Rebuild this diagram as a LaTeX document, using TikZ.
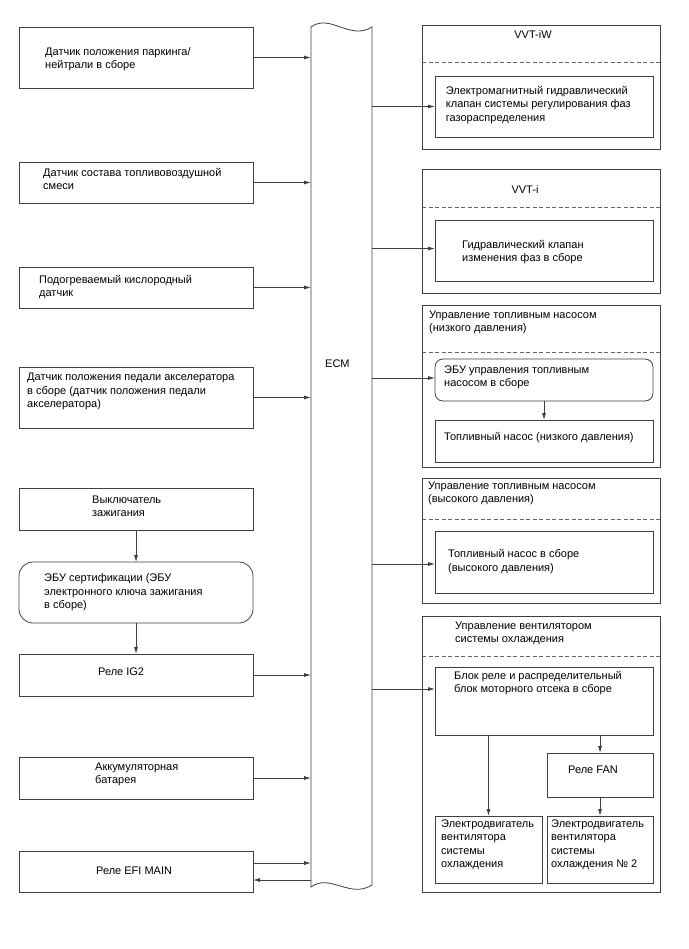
\documentclass[tikz,border=0pt]{standalone}
\usepackage{fontspec}
\setmainfont{Liberation Sans}
\usetikzlibrary{arrows.meta,calc}
\definecolor{lc}{HTML}{404040}
\begin{document}
\begin{tikzpicture}[x=1pt,y=-1pt,
  box/.style={draw=lc, line width=0.8pt, inner sep=0pt, outer sep=0pt, anchor=north west},
  txt/.style={anchor=base west, align=left, inner sep=0pt, font=\fontsize{11}{13.3}\selectfont},
  ttl/.style={anchor=base, align=center, inner sep=0pt, font=\fontsize{11}{13.3}\selectfont},
  arr/.style={draw=lc, line width=0.8pt, -{Latex[length=7pt,width=4pt]}},
  dsh/.style={draw=lc!80, line width=0.8pt, dash pattern=on 4pt off 2.5pt}]
\useasboundingbox (0,0) rectangle (688,949);
\fill[white] (0,0) rectangle (688,949);
% left column
\node[box, minimum width=234pt, minimum height=61pt] (b1) at (19,27) {};
\node[box, minimum width=234pt, minimum height=41pt] (b2) at (19,162) {};
\node[box, minimum width=234pt, minimum height=41pt] (b3) at (19,267) {};
\node[box, minimum width=234pt, minimum height=61pt] (b4) at (19,367) {};
\node[box, minimum width=234pt, minimum height=42pt] (b5) at (19,488) {};
\node[box, minimum width=234pt, minimum height=61pt, rounded corners=14pt] (b6) at (19,562) {};
\node[box, minimum width=234pt, minimum height=42pt] (b7) at (19,654) {};
\node[box, minimum width=234pt, minimum height=42pt] (b8) at (19,757) {};
\node[box, minimum width=234pt, minimum height=41pt] (b9) at (19,851) {};
% text nodes: anchored at the baseline of their last line
\node[txt] (t1) at (45,68.5) {Датчик положения паркинга/\\нейтрали в сборе};
\node[txt] (t2) at (43,189.5) {Датчик состава топливовоздушной\\смеси};
\node[txt] (t3) at (39,296.8) {Подогреваемый кислородный\\датчик};
\node[txt] (t4) at (27,407.4) {Датчик положения педали акселератора\\в сборе (датчик положения педали\\акселератора)};
\node[txt] (t5) at (92,516.8) {Выключатель\\зажигания};
\node[txt] (t6) at (44,608.4) {ЭБУ сертификации (ЭБУ\\электронного ключа зажигания\\в сборе)};
\node[txt] (t7) at (98,675.2) {Реле IG2};
\node[txt] (t8) at (95,783.5) {Аккумуляторная\\батарея};
\node[txt] (t9) at (96,874.2) {Реле EFI MAIN};
% ECM
\node[inner sep=0pt, outer sep=0pt, minimum width=61pt, minimum height=860pt, anchor=north west] (ecm) at (311,27) {};
\draw[lc, line width=0.8pt] (311,27) .. controls (330,13) and (350,41) .. (372,27)
  -- (372,885) .. controls (350,899) and (330,873) .. (311,887) -- cycle;
\node[txt] (ecmt) at (325,367.5) {ECM};
% right column
\node[box, minimum width=238pt, minimum height=124pt] (r1) at (422,25) {};
\node[box, minimum width=238pt, minimum height=124pt] (r2) at (422,169) {};
\node[box, minimum width=238pt, minimum height=162pt] (r3) at (422,305) {};
\node[box, minimum width=238pt, minimum height=125pt] (r4) at (422,478) {};
\node[box, minimum width=238pt, minimum height=276pt] (r5) at (422,616) {};
\draw[dsh] (r1.west |- 0,62) -- (r1.east |- 0,62);
\draw[dsh] (r2.west |- 0,207) -- (r2.east |- 0,207);
\draw[dsh] (r3.west |- 0,352) -- (r3.east |- 0,352);
\draw[dsh] (r4.west |- 0,519) -- (r4.east |- 0,519);
\draw[dsh] (r5.west |- 0,656) -- (r5.east |- 0,656);
\node[box, minimum width=218pt, minimum height=61pt] (r1in) at (435,76) {};
\node[box, minimum width=218pt, minimum height=61pt] (r2in) at (435,220) {};
\node[box, minimum width=218pt, minimum height=42pt, rounded corners=8pt] (r3a) at (435,359) {};
\node[box, minimum width=218pt, minimum height=42pt] (r3b) at (435,420) {};
\node[box, minimum width=218pt, minimum height=62pt] (r4in) at (435,531) {};
\node[box, minimum width=218pt, minimum height=68pt] (blk) at (435,667) {};
\node[box, minimum width=106pt, minimum height=44pt] (fan) at (547,753) {};
\node[box, minimum width=107pt, minimum height=67pt] (e1) at (435,816) {};
\node[box, minimum width=106pt, minimum height=67pt] (e2) at (547,816) {};
\node[ttl] (r1t) at (533,38.5) {VVT-iW};
\node[ttl] (r2t) at (525,193.5) {VVT-i};
\node[txt] (r1it) at (445.7,121.1) {Электромагнитный гидравлический\\клапан системы регулирования фаз\\газораспределения};
\node[txt] (r2it) at (462,261.8) {Гидравлический клапан\\изменения фаз в сборе};
\node[txt] (r3t) at (429,331.8) {Управление топливным насосом\\(низкого давления)};
\node[txt] (r3at) at (444,386.8) {ЭБУ управления топливным\\насосом в сборе};
\node[txt] (r3bt) at (444,440.2) {Топливный насос (низкого давления)};
\node[txt] (r4t) at (428,502.8) {Управление топливным насосом\\(высокого давления)};
\node[txt] (r4it) at (448,571.1) {Топливный насос в сборе\\(высокого давления)};
\node[txt] (r5t) at (455,642.8) {Управление вентилятором\\системы охлаждения};
\node[txt] (blkt) at (454,692.8) {Блок реле и распределительный\\блок моторного отсека в сборе};
\node[txt] (fant) at (568,773.5) {Реле FAN};
\node[txt] (e1t) at (441,867.4) {Электродвигатель\\вентилятора\\системы\\охлаждения};
\node[txt] (e2t) at (551,867.4) {Электродвигатель\\вентилятора\\системы\\охлаждения № 2};
% connectors left -> ECM
\foreach \b in {b1,b2,b3,b4,b7,b8} \draw[arr] (\b.east) -- (\b.east -| ecm.west);
\draw[arr] ([yshift=8.5pt]b9.east) -- ([yshift=8.5pt]b9.east -| ecm.west);
\draw[arr] ([yshift=-8.5pt]b9.east -| ecm.west) -- ([yshift=-8.5pt]b9.east);
\draw[arr] (b5.south) -- (b6.north);
\draw[arr] (b6.south) -- (b7.north);
% ECM -> right
\draw[arr] (ecm.east |- r1in.west) -- (r1in.west);
\draw[arr] ([yshift=2pt]ecm.east |- r2in.west) -- ([yshift=2pt]r2in.west);
\draw[arr] ([yshift=2pt]ecm.east |- r3a.west) -- ([yshift=2pt]r3a.west);
\draw[arr] ([yshift=-2pt]ecm.east |- r4in.west) -- ([yshift=-2pt]r4in.west);
\draw[arr] ([yshift=12pt]ecm.east |- blk.west) -- ([yshift=12pt]blk.west);
\draw[arr] (r3a.south) -- (r3b.north);
\draw[arr] (blk.south -| e1.north) -- (e1.north);
\draw[arr] (blk.south -| fan.north) -- (fan.north);
\draw[arr] (fan.south) -- (e2.north);
\end{tikzpicture}
\end{document}
